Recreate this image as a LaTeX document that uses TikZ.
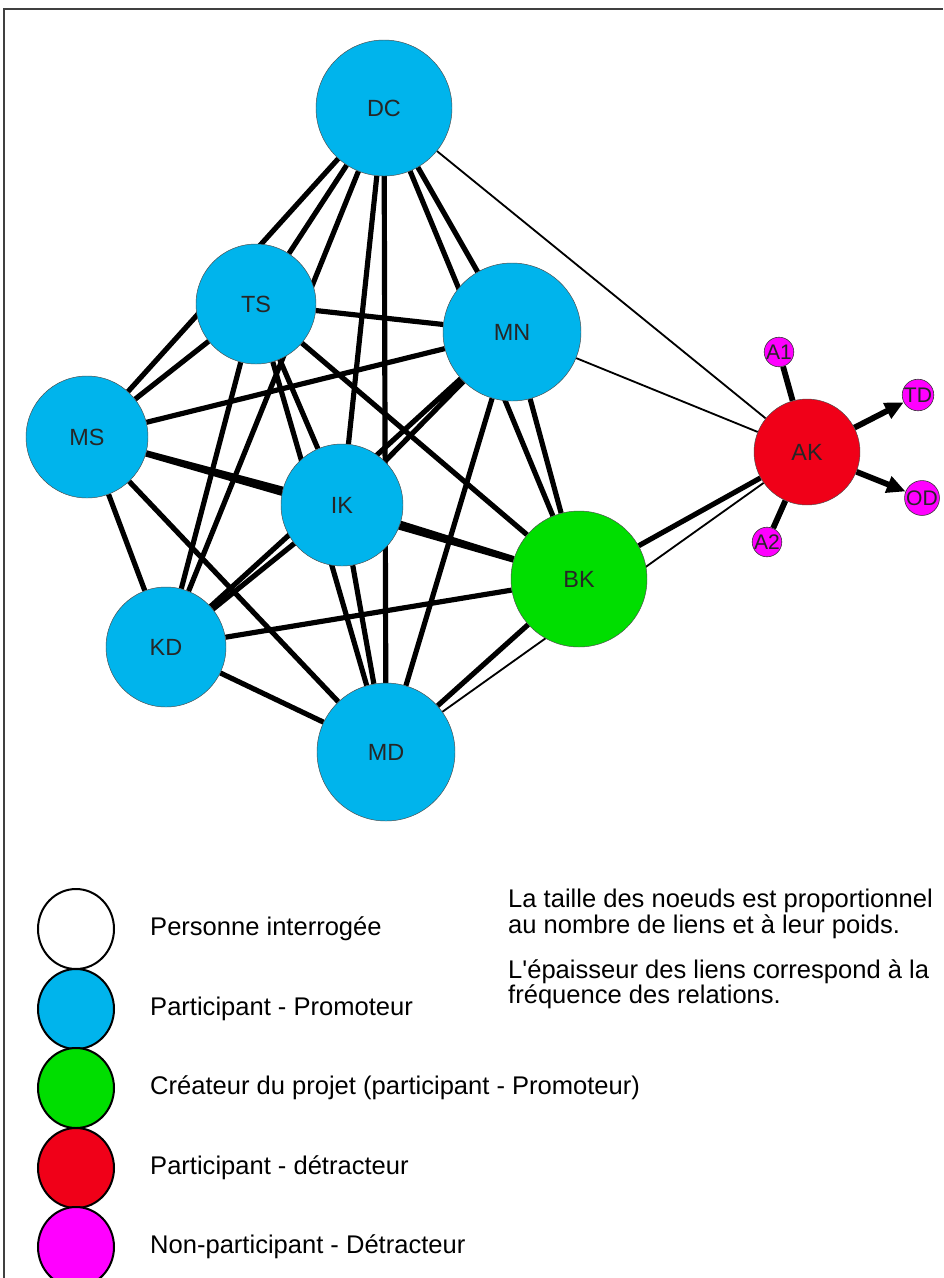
\documentclass[tikz,border=0pt]{standalone}
\usepackage{fontspec}
\setmainfont{Liberation Sans}
\usetikzlibrary{arrows.meta,backgrounds}
\definecolor{bleu}{RGB}{0,180,236}
\definecolor{vert}{RGB}{0,222,0}
\definecolor{rouge}{RGB}{240,0,24}
\definecolor{rose}{RGB}{255,0,255}

\begin{document}
\begin{tikzpicture}[x=0.3mm,y=-0.3mm,
    acteur/.style={circle,draw=black!70,line width=0.4pt,inner sep=0pt,text=black!85,font=\fontsize{20}{24}\selectfont},
    petit/.style={circle,draw=black!80,fill=rose,line width=0.5pt,inner sep=0pt,minimum size=8.4mm,text=black!85,font=\fontsize{18}{18}\selectfont},
    lien/.style={line width=1.55mm},
    lienfort/.style={line width=1.75mm},
    lienfin/.style={line width=0.55mm},
    legende/.style={draw=black,line width=0.6mm},
    texte/.style={anchor=west,inner sep=0pt,align=left,font=\fontsize{21.8}{20.5}\selectfont}]
    \useasboundingbox (0,0) rectangle (943,1278);
    % cadre
    \draw[black!75,line width=0.45mm] (4,1278) -- (4,9) -- (943,9);

    % acteurs
    \node[acteur,fill=bleu,minimum size=40.8mm] (DC) at (384,108) {DC};
    \node[acteur,fill=bleu,minimum size=36mm] (TS) at (256,304) {TS};
    \node[acteur,fill=bleu,minimum size=41.4mm] (MN) at (512,332) {MN};
    \node[acteur,fill=bleu,minimum size=36.6mm] (MS) at (87,437) {MS};
    \node[acteur,fill=bleu,minimum size=36.6mm] (IK) at (342,505) {IK};
    \node[acteur,fill=vert,minimum size=40.8mm] (BK) at (579,579) {BK};
    \node[acteur,fill=bleu,minimum size=36mm] (KD) at (166,647) {KD};
    \node[acteur,fill=bleu,minimum size=41.4mm] (MD) at (386,752) {MD};
    \node[acteur,fill=rouge,minimum size=31.8mm] (AK) at (807,452) {AK};
    \node[petit] (A1) at (779,352) {A1};
    \node[petit] (TD) at (918,395) {TD};
    \node[petit] (OD) at (922,498) {OD};
    \node[petit] (A2) at (767,542) {A2};

    % liens
    \begin{scope}[on background layer]
        \draw[lien] (DC) -- (TS) (DC) -- (MS) (DC) -- (KD) (DC) -- (IK) (DC) -- (MD) (DC) -- (MN) (DC) -- (BK);
        \draw[lien] (TS) -- (MN) (TS) -- (MS) (TS) -- (KD) (TS) -- (IK) (TS) -- (MD) (TS) -- (BK);
        \draw[lien] (MN) -- (MS) (MN) -- (IK) (MN) -- (KD) (MN) -- (MD) (MN) -- (BK);
        \draw[lien] (MS) -- (IK) (MS) -- (BK) (MS) -- (KD) (MS) -- (MD);
        \draw[lien] (IK) -- (KD) (IK) -- (BK) (IK) -- (MD);
        \draw[lien] (KD) -- (BK) (KD) -- (MD) (BK) -- (MD);
        \draw[lien] (BK) -- (AK);
        \draw[lienfort] (AK) -- (A1) (AK) -- (A2);
        \draw[lienfin] (DC) -- (AK) (MN) -- (AK) (MD) -- (AK);
        \draw[lienfort,-{Triangle[length=5.6mm,width=5mm]}] (AK) -- (TD);
        \draw[lienfort,-{Triangle[length=5.6mm,width=5mm]}] (AK) -- (OD);
    \end{scope}

    % legende
    \draw[legende,fill=white] (76,929) ellipse [x radius=38,y radius=40];
    \draw[legende,fill=bleu] (76,1009) ellipse [x radius=38,y radius=40];
    \draw[legende,fill=vert] (76,1088) ellipse [x radius=38,y radius=40];
    \draw[legende,fill=rouge] (76,1168) ellipse [x radius=38,y radius=40];
    \draw[legende,fill=rose] (76,1247) ellipse [x radius=38,y radius=40];
    \node[texte] (l1) at (150,929) {Personne interrogée};
    \node[texte] (l2) at (150,1009) {Participant - Promoteur};
    \node[texte] (l3) at (150,1088) {Créateur du projet (participant - Promoteur)};
    \node[texte] (l4) at (150,1168) {Participant - détracteur};
    \node[texte] (l5) at (150,1247) {Non-participant - Détracteur};
    \node[texte] (n1) at (508,914) {La taille des noeuds est proportionnel\\au nombre de liens et à leur poids.};
    \node[texte] (n2) at (508,984) {L\textquotesingle épaisseur des liens correspond à la\\fréquence des relations.};
\end{tikzpicture}
\end{document}
